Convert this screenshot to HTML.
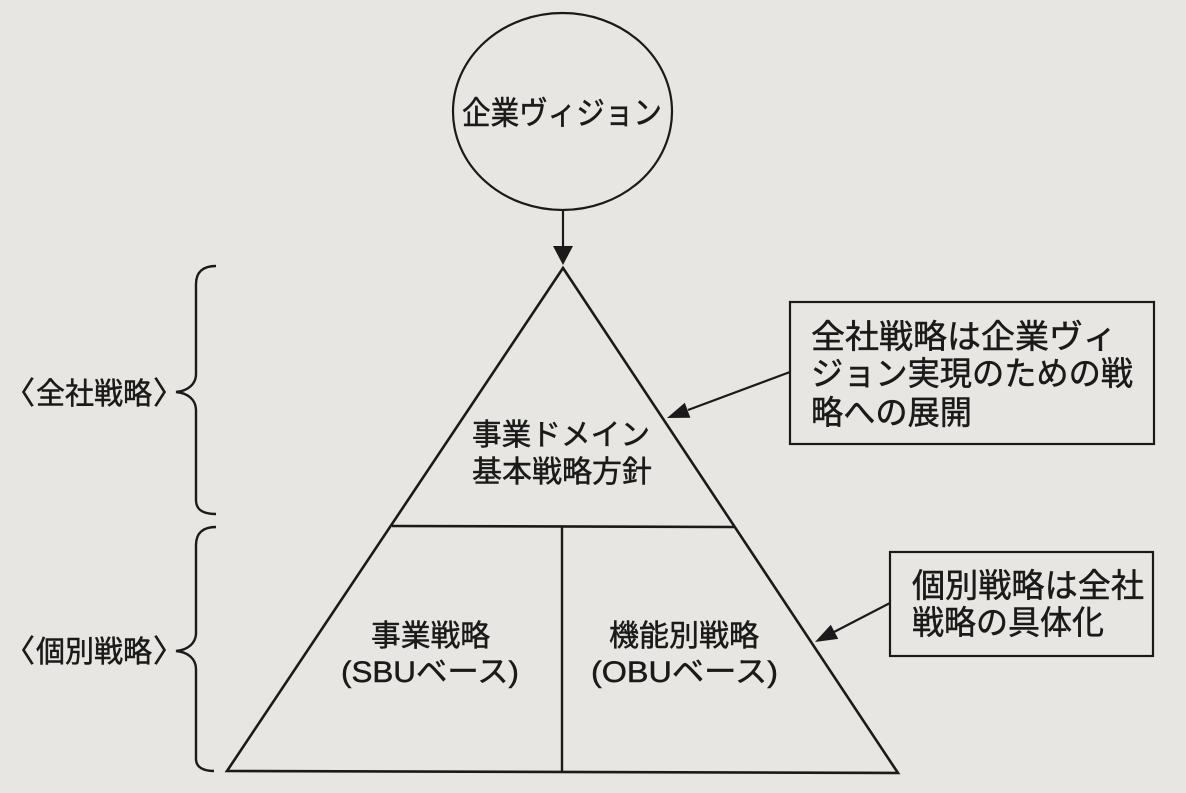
<!DOCTYPE html>
<html>
<head>
<meta charset="utf-8">
<style>
  html, body { margin:0; padding:0; background:#e8e6e2; }
  body { width:1186px; height:793px; overflow:hidden; }
  svg { display:block; }
  text { font-family: "Liberation Sans", "Noto Sans CJK JP", sans-serif; fill:#1a1a1a; stroke:#1a1a1a; stroke-width:0.5; }
</style>
</head>
<body>
<svg width="1186" height="793" viewBox="0 0 1186 793" xmlns="http://www.w3.org/2000/svg">
  <rect x="0" y="0" width="1186" height="793" fill="#e8e6e2"/>

  <!-- Vision circle -->
  <ellipse cx="562.5" cy="111.5" rx="109.5" ry="98.5" fill="none" stroke="#1a1a1a" stroke-width="2.2"/>
  <text x="462" y="124" font-size="32" textLength="200" lengthAdjust="spacingAndGlyphs">企業ヴィジョン</text>

  <!-- Down arrow -->
  <line x1="563" y1="210" x2="563" y2="250" stroke="#1a1a1a" stroke-width="2.2"/>
  <polygon points="553,246 573,246 563,265" fill="#1a1a1a"/>

  <!-- Pyramid -->
  <polygon points="563,268 898,773 227,771" fill="none" stroke="#1a1a1a" stroke-width="2.6" stroke-linejoin="miter"/>
  <line x1="392" y1="526" x2="734" y2="527" stroke="#1a1a1a" stroke-width="2.6"/>
  <line x1="562" y1="526" x2="562" y2="772" stroke="#1a1a1a" stroke-width="2.4"/>

  <!-- Pyramid texts -->
  <text x="472" y="445" font-size="30" textLength="178" lengthAdjust="spacingAndGlyphs">事業ドメイン</text>
  <text x="472" y="482" font-size="30" textLength="180" lengthAdjust="spacingAndGlyphs">基本戦略方針</text>

  <text x="371" y="646" font-size="30" textLength="119" lengthAdjust="spacingAndGlyphs">事業戦略</text>
  <text x="341" y="682" font-size="30" textLength="178" lengthAdjust="spacingAndGlyphs">(SBUベース)</text>

  <text x="609" y="646" font-size="30" textLength="150" lengthAdjust="spacingAndGlyphs">機能別戦略</text>
  <text x="591" y="682" font-size="30" textLength="187" lengthAdjust="spacingAndGlyphs">(OBUベース)</text>

  <!-- Braces -->
  <path d="M216,266 C203,266 196,272 196,284 L196,374 C196,384 188,391 176,392 C188,393 196,400 196,410 L196,500 C196,510 203,514 216,514"
        fill="none" stroke="#1a1a1a" stroke-width="2.4"/>
  <path d="M216,527 C203,527 196,533 196,545 L196,633 C196,643 188,650 176,651 C188,652 196,659 196,669 L196,759 C196,767 203,771 214,771"
        fill="none" stroke="#1a1a1a" stroke-width="2.4"/>

  <!-- Left labels -->
  <text x="4" y="404" font-size="31">〈</text>
  <text x="36" y="404" font-size="30" textLength="116" lengthAdjust="spacingAndGlyphs">全社戦略</text>
  <text x="153" y="404" font-size="31">〉</text>

  <text x="4" y="662" font-size="31">〈</text>
  <text x="36" y="662" font-size="30" textLength="116" lengthAdjust="spacingAndGlyphs">個別戦略</text>
  <text x="153" y="662" font-size="31">〉</text>

  <!-- Callout box 1 -->
  <rect x="790" y="302" width="364" height="142" fill="none" stroke="#1a1a1a" stroke-width="2.2"/>
  <text x="811" y="348" font-size="33" textLength="306" lengthAdjust="spacingAndGlyphs">全社戦略は企業ヴィ</text>
  <text x="811" y="385" font-size="33" textLength="322" lengthAdjust="spacingAndGlyphs">ジョン実現のための戦</text>
  <text x="811" y="424" font-size="33" textLength="161" lengthAdjust="spacingAndGlyphs">略への展開</text>

  <!-- Arrow 1 -->
  <line x1="790" y1="372" x2="688" y2="410" stroke="#1a1a1a" stroke-width="2.2"/>
  <polygon points="667,418 690.4,417.8 684.8,402.8" fill="#1a1a1a"/>

  <!-- Callout box 2 -->
  <rect x="890" y="552" width="263" height="104" fill="none" stroke="#1a1a1a" stroke-width="2.2"/>
  <text x="912" y="597" font-size="33" textLength="232" lengthAdjust="spacingAndGlyphs">個別戦略は全社</text>
  <text x="912" y="634" font-size="33" textLength="192" lengthAdjust="spacingAndGlyphs">戦略の具体化</text>

  <!-- Arrow 2 -->
  <line x1="890" y1="603" x2="834" y2="632" stroke="#1a1a1a" stroke-width="2.2"/>
  <polygon points="815,642 838.2,638.9 830.8,624.7" fill="#1a1a1a"/>
</svg>
</body>
</html>
